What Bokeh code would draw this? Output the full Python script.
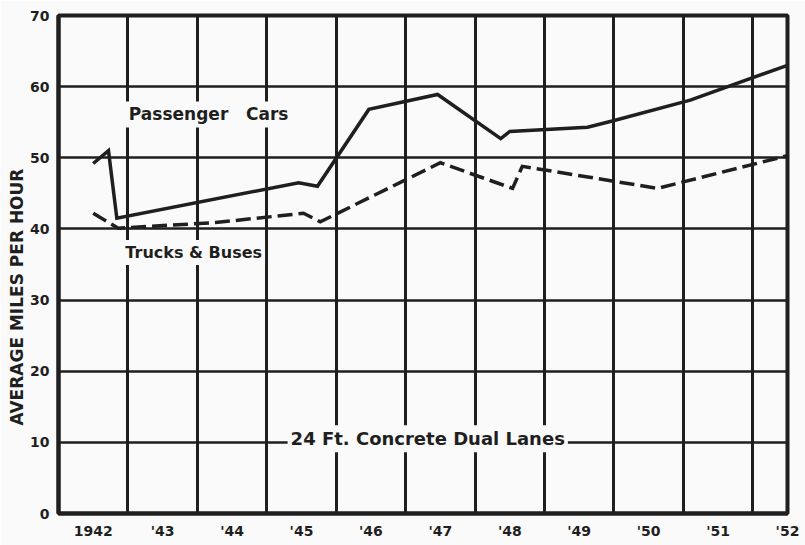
from bokeh.plotting import figure
from bokeh.models import Range1d, FixedTicker, Label
from bokeh.embed import file_html
from bokeh.resources import INLINE

# Passenger cars (solid)
years_cars = [1942.00, 1942.22, 1942.34, 1944.96, 1945.23, 1945.97, 1946.96,
              1947.87, 1948.00, 1949.12, 1949.49, 1950.60, 1952.00]
mph_cars = [49.2, 51.0, 41.5, 46.5, 46.0, 56.8, 58.9,
            52.7, 53.7, 54.3, 55.2, 58.1, 63.0]

# Trucks & buses (dashed)
years_trucks = [1942.00, 1942.36, 1943.76, 1945.03, 1945.27, 1947.00,
                1948.04, 1948.18, 1950.13, 1952.00]
mph_trucks = [42.2, 40.1, 40.9, 42.2, 41.0, 49.3,
              45.7, 48.8, 45.7, 50.3]

tick_years = [1942, 1943, 1944, 1945, 1946, 1947, 1948, 1949, 1950, 1951, 1952]
tick_labels = ["1942", "'43", "'44", "'45", "'46", "'47", "'48", "'49", "'50", "'51", "'52"]
grid_years = [1942.5, 1943.5, 1944.5, 1945.5, 1946.5, 1947.5, 1948.5, 1949.5, 1950.5, 1951.5]
y_ticks = [0, 10, 20, 30, 40, 50, 60, 70]

INK = "#1f1f1f"
PAPER = "#fafafa"
FONT = "DejaVu Sans"
NB = "\u00a0"

p = figure(width=805, height=545,
           x_range=Range1d(1941.5, 1952.0), y_range=Range1d(0, 70),
           output_backend="svg", toolbar_location=None,
           min_border_left=58, min_border_right=18,
           min_border_top=15, min_border_bottom=32)

p.background_fill_color = PAPER
p.border_fill_color = PAPER
p.outline_line_color = INK
p.outline_line_width = 4

# axes
p.xaxis.ticker = FixedTicker(ticks=tick_years)
p.xaxis.major_label_overrides = {y: l for y, l in zip(tick_years, tick_labels)}
p.yaxis.ticker = FixedTicker(ticks=y_ticks)
for ax in (p.xaxis[0], p.yaxis[0]):
    ax.axis_line_color = INK
    ax.axis_line_width = 4
    ax.major_tick_line_color = None
    ax.minor_tick_line_color = None
    ax.major_label_text_font = FONT
    ax.major_label_text_font_style = "bold"
    ax.major_label_text_font_size = "14px"
    ax.major_label_text_color = INK
p.xaxis.major_label_standoff = 3
p.yaxis.major_label_standoff = 3

p.yaxis.axis_label = "AVERAGE MILES PER HOUR" + NB * 11
p.yaxis.axis_label_text_font = FONT
p.yaxis.axis_label_text_font_style = "bold"
p.yaxis.axis_label_text_font_size = "17px"
p.yaxis.axis_label_text_color = INK
p.yaxis.axis_label_standoff = 0

# grids
p.xgrid.ticker = FixedTicker(ticks=grid_years)
p.xgrid.grid_line_color = INK
p.xgrid.grid_line_width = 3
p.ygrid.ticker = FixedTicker(ticks=y_ticks)
p.ygrid.grid_line_color = INK
p.ygrid.grid_line_width = 2.5

# data
p.line(years_cars, mph_cars, line_color=INK, line_width=3.5, line_join="miter")
p.line(years_trucks, mph_trucks, line_color=INK, line_width=3.5,
       line_dash="15 6", line_join="miter")

def lab(x, y, text, size):
    p.add_layout(Label(x=x, y=y, text=text,
                       text_font=FONT, text_font_style="bold",
                       text_font_size=size, text_color=INK,
                       text_align="left", text_baseline="middle",
                       background_fill_color=PAPER, padding=3))

lab(1942.47, 56.1, "Passenger" + NB * 3 + "Cars", "17px")
lab(1942.42, 36.7, "Trucks & Buses", "16px")
lab(1944.80, 10.5, "24 Ft. Concrete Dual Lanes", "18px")

open("out.html", "w").write(file_html(p, INLINE))
